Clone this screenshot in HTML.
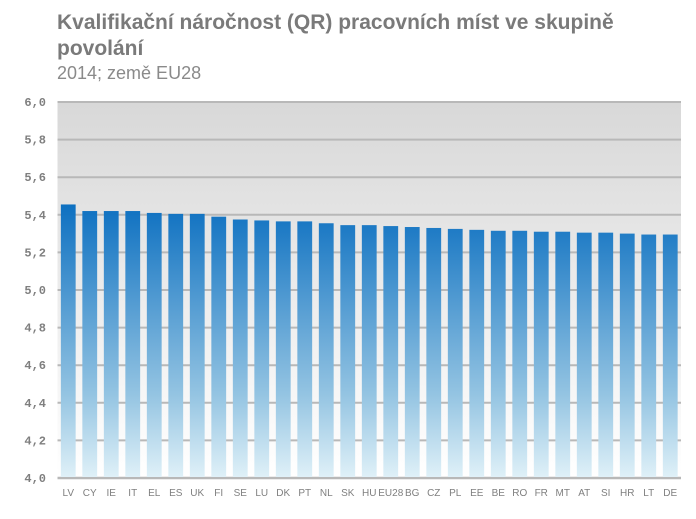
<!DOCTYPE html>
<html><head><meta charset="utf-8"><style>
body{margin:0;background:#fff;width:696px;height:519px;overflow:hidden;font-family:"Liberation Sans",sans-serif}
.t{position:absolute;left:57px;color:#7f7f7f}
</style></head><body>
<div class="t" style="top:10px;font-size:21px;font-weight:bold;line-height:26px;width:600px;color:#7a7a7a">Kvalifikační náročnost (QR) pracovních míst ve skupině povolání</div>
<div class="t" style="top:63px;font-size:18px;color:#8a8a8a">2014; země EU28</div>
<svg id="c" width="696" height="519" style="position:absolute;left:0;top:0">
<defs>
<linearGradient id="bg" x1="0" y1="0" x2="0" y2="1"><stop offset="0" stop-color="#d8d8d8"/><stop offset="1" stop-color="#ffffff"/></linearGradient>
<linearGradient id="bar" gradientUnits="userSpaceOnUse" x1="0" y1="200" x2="0" y2="478"><stop offset="0" stop-color="#0a6ec0"/><stop offset="0.7" stop-color="#94c4e2"/><stop offset="1" stop-color="#e0f1f8"/></linearGradient>
</defs>
</svg>
<script>
const categories=["LV","CY","IE","IT","EL","ES","UK","FI","SE","LU","DK","PT","NL","SK","HU","EU28","BG","CZ","PL","EE","BE","RO","FR","MT","AT","SI","HR","LT","DE"];
const values=[5.455,5.42,5.42,5.42,5.41,5.405,5.405,5.39,5.375,5.37,5.365,5.365,5.355,5.345,5.345,5.34,5.335,5.33,5.325,5.32,5.315,5.315,5.31,5.31,5.305,5.305,5.3,5.295,5.295];
const ticks=[4.0,4.2,4.4,4.6,4.8,5.0,5.2,5.4,5.6,5.8,6.0];
const tickLabels=["4,0","4,2","4,4","4,6","4,8","5,0","5,2","5,4","5,6","5,8","6,0"];
const svg=document.getElementById('c'),NS='http://www.w3.org/2000/svg';
const X0=57.5,X1=681,Y0=478,Y1=102,vmin=4,vmax=6;
const y=v=>Y0-(v-vmin)/(vmax-vmin)*(Y0-Y1);
const step=(X1-X0)/categories.length;
const x=i=>X0+i*step;
function mk(t,a){const e=document.createElementNS(NS,t);for(const k in a)e.setAttribute(k,a[k]);svg.appendChild(e);return e;}
const bgr=mk('rect',{x:X0,y:Y1,width:X1-X0,height:Y0-Y1,fill:'url(#bg)'});


ticks.forEach((t,i)=>{
 const l=mk('line',{x1:X0,x2:X1,y1:y(t),y2:y(t),stroke:'#b8b8b8','stroke-width':i==0?2.5:2});
 
 
 const tx=mk('text',{x:46,y:y(t)+4,'text-anchor':'end','font-size':12,'font-family':'Liberation Mono, monospace',fill:'#7f7f7f','font-weight':'bold'});
 tx.textContent=tickLabels[i];
 
 
});
const bw=14.8;
categories.forEach((c,i)=>{
 const cx=x(i)+step/2;
 const r=mk('rect',{x:cx-bw/2,y:y(values[i]),width:bw,height:Y0-1-y(values[i]),fill:'url(#bar)'});
 
 
 const tx=mk('text',{x:cx,y:496,'text-anchor':'middle','font-size':10,fill:'#7f7f7f'});
 tx.textContent=c;
 
 
});
</script>
</body></html>
